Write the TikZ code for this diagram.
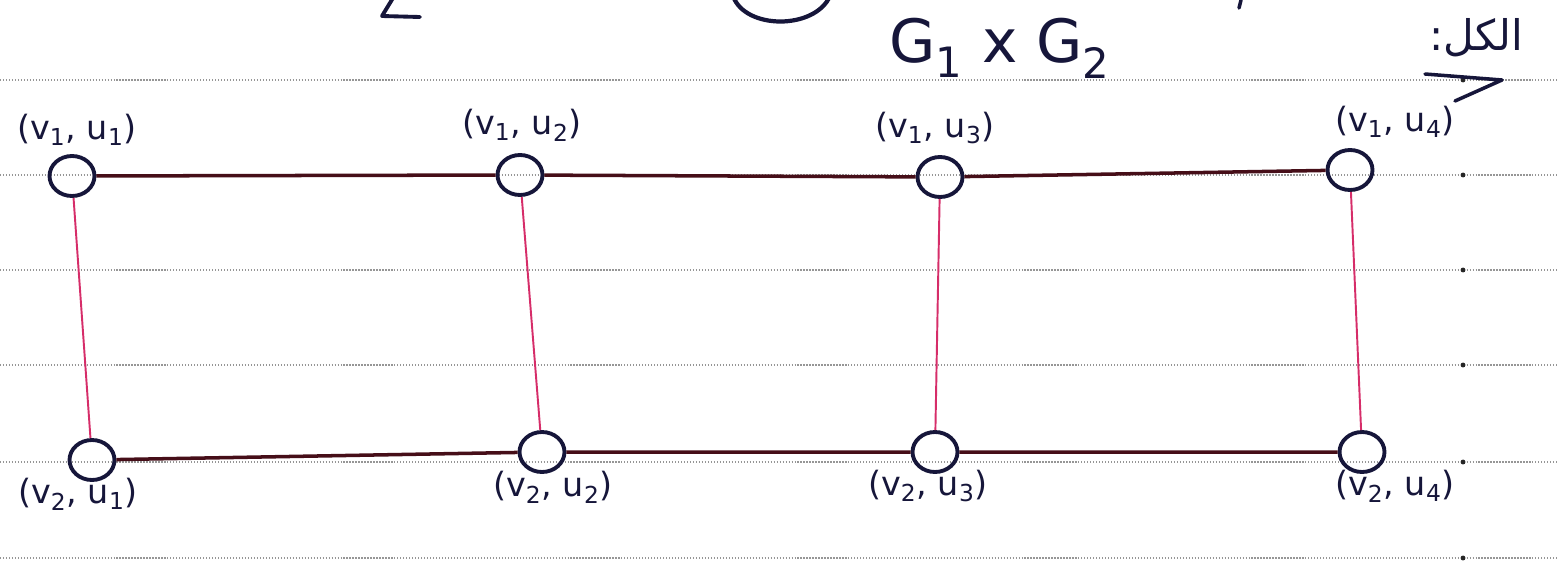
\documentclass[tikz,border=0pt]{standalone}
\usepackage{fontspec}
\setmainfont{DejaVu Sans}
\newfontfamily\arabicfont[Script=Arabic]{DejaVu Sans}
\TeXXeTstate=1
\usetikzlibrary{shapes.geometric}

\definecolor{ink}{RGB}{22,22,58}
\definecolor{edgedark}{RGB}{70,14,24}
\definecolor{edgepink}{RGB}{214,45,105}
\definecolor{rulegray}{RGB}{150,150,150}

\tikzset{
  vertex/.style={ellipse, draw=ink, line width=2.2pt, minimum width=0.9cm,
                 minimum height=0.8cm, inner sep=0pt},
  vlabel/.style={text=ink, font=\fontsize{19}{22}\selectfont},
  hedge/.style={edgedark, line width=2pt},
  vedge/.style={edgepink, line width=1.1pt},
  ruled/.style={rulegray, densely dotted, line width=0.7pt},
}

\begin{document}
\begin{tikzpicture}[x=0.02cm, y=-0.02cm]

\useasboundingbox (0,0) rectangle (1557,575);
\fill[white] (0,0) rectangle (1557,575);

%% ── Notebook lines ──────────────────────────────────────────────────────────
\foreach \y in {80,175,270,365,462,558}{
  \draw[ruled] (0,\y) -- (1557,\y);
  \fill[black!85] (1463,\y) circle (1.4pt);
}

%% bits of the line above (cut off)
\draw[ink, line width=2.2pt, line cap=round, line join=round]
  (393,-2) -- (382,16) -- (420,17);
\draw[ink, line width=2.4pt, line cap=round]
  (733,-4) .. controls (745,30) and (815,30) .. (830,-4);
\draw[ink, line width=2pt, line cap=round] (1241,0) -- (1239,8);

%% ── Title ───────────────────────────────────────────────────────────────────
\node[ink, font=\fontsize{34}{38}\selectfont] (title) at (1000,48)
  {G\textsubscript{1} x G\textsubscript{2}};
\node[ink, font=\arabicfont\fontsize{24}{28}\selectfont] (allword) at (1476,38)
  {\beginR الكل:\endR};
\coordinate (arrS) at (1425,74);
\coordinate (arrA) at (1502,80);
\coordinate (arrB) at (1455,101);
\draw[ink, line width=2pt, line join=round, line cap=round] (arrS) -- (arrA) -- (arrB);

%% ── Vertices v1 x u_j (top row) ─────────────────────────────────────────────
\node[vertex] (a1) at (72,176)   {};
\node[vertex] (a2) at (520,175)  {};
\node[vertex] (a3) at (940,177)  {};
\node[vertex] (a4) at (1350,170) {};

%% ── Vertices v2 x u_j (bottom row) ──────────────────────────────────────────
\node[vertex] (b1) at (92,460)   {};
\node[vertex] (b2) at (542,452)  {};
\node[vertex] (b3) at (935,452)  {};
\node[vertex] (b4) at (1362,452) {};

%% ── Labels ──────────────────────────────────────────────────────────────────
\node[vlabel] (la1) at (77,130)   {(v\textsubscript{1}, u\textsubscript{1})};
\node[vlabel] (la2) at (522,125)  {(v\textsubscript{1}, u\textsubscript{2})};
\node[vlabel] (la3) at (935,128)  {(v\textsubscript{1}, u\textsubscript{3})};
\node[vlabel] (la4) at (1395,122) {(v\textsubscript{1}, u\textsubscript{4})};

\node[vlabel] (lb1) at (78,494)   {(v\textsubscript{2}, u\textsubscript{1})};
\node[vlabel] (lb2) at (553,487)  {(v\textsubscript{2}, u\textsubscript{2})};
\node[vlabel] (lb3) at (928,486)  {(v\textsubscript{2}, u\textsubscript{3})};
\node[vlabel] (lb4) at (1395,486) {(v\textsubscript{2}, u\textsubscript{4})};

%% ── Edges ───────────────────────────────────────────────────────────────────
\draw[hedge] (a1) -- (a2) -- (a3) -- (a4);
\draw[hedge] (b1) -- (b2) -- (b3) -- (b4);
\foreach \i in {1,...,4}
  \draw[vedge] (a\i) -- (b\i);

\end{tikzpicture}
\end{document}
